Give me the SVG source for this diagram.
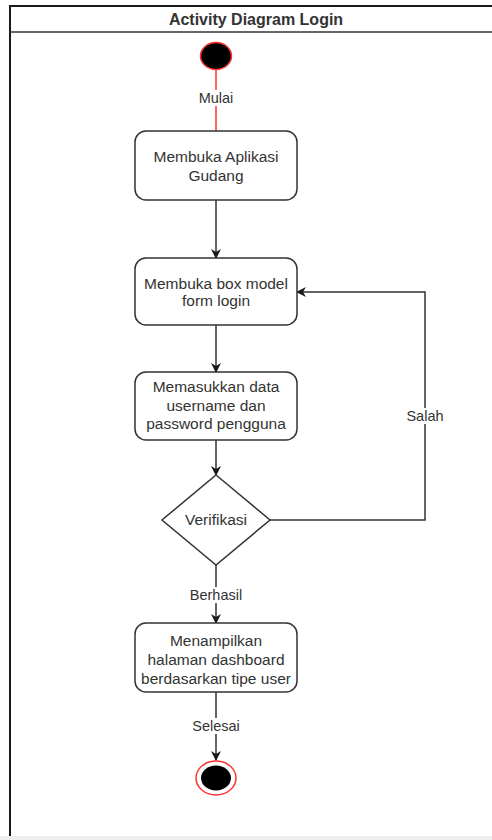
<svg xmlns="http://www.w3.org/2000/svg" width="492" height="840" viewBox="0 0 492 840">
  <style>
    .frame { fill: #ffffff; stroke: #1a1a1a; stroke-width: 2; }
    .box { fill: #ffffff; stroke: #333333; stroke-width: 1.5; }
    .edge { fill: none; stroke: #333333; stroke-width: 1.5; }
    .edge-start { fill: none; stroke: #ff3333; stroke-width: 1.5; }
    .txt { font-family: "Liberation Sans", Arial, sans-serif; font-size: 15.5px; fill: #333333; text-anchor: middle; }
    .lbl { font-family: "Liberation Sans", Arial, sans-serif; font-size: 14.5px; fill: #333333; text-anchor: middle; }
    .lblbg { fill: #ffffff; }
    .title { font-family: "Liberation Sans", Arial, sans-serif; font-size: 16px; font-weight: bold; fill: #333333; text-anchor: middle; }
  </style>
  <defs>
    <marker id="arrow" viewBox="0 0 10 10" refX="9" refY="5" markerWidth="10" markerHeight="10" markerUnits="userSpaceOnUse" orient="auto">
      <path d="M0,0 L10,5 L0,10 L3,5 Z" fill="#1a1a1a"/>
    </marker>
  </defs>

  <!-- page background and frame -->
  <rect x="0" y="0" width="492" height="840" fill="#ffffff"/>
  <g id="frame">
    <rect class="frame" x="10" y="6" width="500" height="840"/>
    <line x1="10" y1="32" x2="492" y2="32" stroke="#333333" stroke-width="1.5"/>
    <text class="title" x="256" y="25">Activity Diagram Login</text>
  </g>
  <rect x="0" y="836" width="492" height="4" fill="#eeeeee"/>

  <!-- connectors -->
  <g id="connectors">
    <line class="edge-start" x1="216" y1="70" x2="216" y2="131"/>
    <rect class="lblbg" x="194" y="90" width="44" height="16"/>
    <text class="lbl" x="216" y="103">Mulai</text>

    <line class="edge" x1="216" y1="200" x2="216" y2="258" marker-end="url(#arrow)"/>
    <line class="edge" x1="216" y1="325" x2="216" y2="372" marker-end="url(#arrow)"/>
    <line class="edge" x1="216" y1="440" x2="216" y2="475" marker-end="url(#arrow)"/>

    <polyline class="edge" points="270,520 425,520 425,292 297,292" marker-end="url(#arrow)"/>
    <rect class="lblbg" x="403" y="408" width="44" height="16"/>
    <text class="lbl" x="425" y="421">Salah</text>

    <line class="edge" x1="216" y1="565" x2="216" y2="623" marker-end="url(#arrow)"/>
    <rect class="lblbg" x="184" y="587" width="64" height="16"/>
    <text class="lbl" x="216" y="600">Berhasil</text>

    <line class="edge" x1="216" y1="692" x2="216" y2="760" marker-end="url(#arrow)"/>
    <rect class="lblbg" x="188" y="718" width="56" height="16"/>
    <text class="lbl" x="216" y="731">Selesai</text>
  </g>

  <!-- start node -->
  <g id="start">
    <ellipse cx="216" cy="56" rx="15.5" ry="13.5" fill="#000000" stroke="#ff3333" stroke-width="1.5"/>
  </g>

  <g id="buka-aplikasi">
    <rect class="box" x="135" y="131" width="162" height="69" rx="11"/>
    <text class="txt" x="216" y="162">Membuka Aplikasi</text>
    <text class="txt" x="216" y="181">Gudang</text>
  </g>

  <g id="buka-form">
    <rect class="box" x="135" y="258" width="162" height="67" rx="11"/>
    <text class="txt" x="216" y="289">Membuka box model</text>
    <text class="txt" x="216" y="306">form login</text>
  </g>

  <g id="input-data">
    <rect class="box" x="135" y="372" width="162" height="68" rx="11"/>
    <text class="txt" x="216" y="392">Memasukkan data</text>
    <text class="txt" x="216" y="411">username dan</text>
    <text class="txt" x="216" y="429">password pengguna</text>
  </g>

  <g id="verifikasi">
    <polygon class="box" points="216,475 270,520 216,565 162,520"/>
    <text class="txt" x="216" y="525">Verifikasi</text>
  </g>

  <g id="dashboard">
    <rect class="box" x="135" y="623" width="162" height="69" rx="11"/>
    <text class="txt" x="216" y="646">Menampilkan</text>
    <text class="txt" x="216" y="665">halaman dashboard</text>
    <text class="txt" x="216" y="684">berdasarkan tipe user</text>
  </g>

  <!-- end node -->
  <g id="end">
    <ellipse cx="216" cy="778" rx="20" ry="17" fill="#ffffff" stroke="#ff3333" stroke-width="1.5"/>
    <ellipse cx="216" cy="778" rx="15" ry="12.5" fill="#000000"/>
  </g>
</svg>
